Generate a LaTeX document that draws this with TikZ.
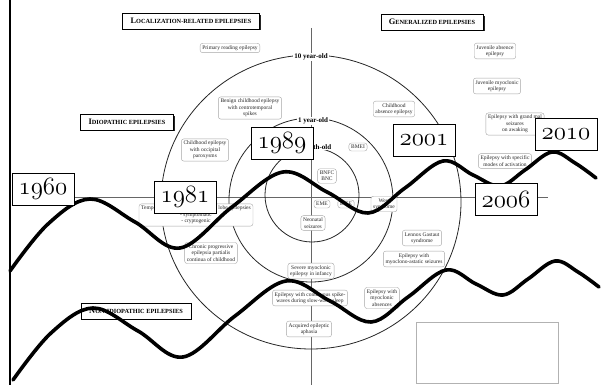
\documentclass[tikz,border=0pt]{standalone}
\usepackage{fontspec}
\setmainfont{Liberation Serif}
\usetikzlibrary{shadows}

% old-style figures for the year tags
\newcommand\yearnum[1]{{\fontsize{24.88}{26}\usefont{OML}{cmm}{m}{it}#1}}
% big first letter + small caps rest
\newcommand\headcap[2]{{\fontsize{8.4}{9}\selectfont #1}{\fontsize{6.3}{7}\selectfont #2}}

\begin{document}
\begin{tikzpicture}[x=1pt,y=-1pt,
	synbox/.style={draw=black!35, fill=white, rounded corners=2.5pt, line width=0.4pt,
		align=center, inner sep=2.2pt, font=\fontsize{5.5}{6.4}\selectfont, text=black!85},
	headbox/.style={draw=black, fill=white, line width=0.5pt, inner xsep=8pt, inner ysep=5pt,
		font=\bfseries, drop shadow={shadow xshift=1.6pt, shadow yshift=-1.6pt, fill=black, opacity=0.85}},
	yearbox/.style={draw=black, fill=white, line width=0.6pt,
		minimum width=62pt, minimum height=32pt, inner sep=0pt},
	agelabel/.style={fill=white, inner sep=1pt, font=\bfseries\fontsize{7}{8}\selectfont},
	ring/.style={line width=0.8pt, black!85},
	axis/.style={line width=0.5pt, black!60},
	wave/.style={line width=3.6pt, line cap=round, line join=round}
	]
	\useasboundingbox (0,0) rectangle (606,385);

	% axes and age rings
	\draw[axis] (75,197) -- (548,197);
	\draw[axis] (311,28) -- (311,385);
	\draw[ring] (311,202) ellipse [x radius=150pt, y radius=147pt];
	\draw[ring] (311,200) circle [radius=82pt];
	\draw[ring] (312,195) circle [radius=47pt];

	\node[agelabel] (age10) at (311,57) {10 year-old};
	\node[agelabel] (age1) at (313,121) {1 year-old};
	\node[agelabel] (age0) at (313,147) {1 month-old};

	% headings
	\node[headbox] (loc) at (191,21) {\headcap{L}{OCALIZATION-RELATED EPILEPSIES}};
	\node[headbox] (gen) at (432,22) {\headcap{G}{ENERALIZED EPILEPSIES}};
	\node[headbox] (idio) at (127,122) {\headcap{I}{DIOPATHIC EPILEPSIES}};
	\node[headbox] (nonid) at (136,311) {\headcap{N}{ON-IDIOPATHIC EPILEPSIES}};

	% syndromes
	\node[synbox] (prim) at (230,48) {Primary reading epilepsy};
	\node[synbox] (benign) at (250,108) {Benign childhood epilepsy\\with centrotemporal\\spikes};
	\node[synbox] (occip) at (205,150) {Childhood epilepsy\\with occipital\\paroxysms};
	\node[synbox] (lobe) at (196,215) {Temporal/frontal/parietal/occipital lobe epilepsies\\- symptomatic\\- cryptogenic};
	\node[synbox] (chron) at (211,253) {Chronic progressive\\epilepsia partialis\\continua of childhood};
	\node[synbox] (bnfc) at (327,176) {BNFC\\BNC};
	\node[synbox] (bmei) at (358,147) {BMEI};
	\node[synbox] (eme) at (322,204) {EME};
	\node[synbox] (eiee) at (346,204) {EIEE};
	\node[synbox] (neo) at (313,223) {Neonatal\\seizures};
	\node[synbox] (west) at (384,204) {West\\syndrome};
	\node[synbox] (cae) at (394,109) {Childhood\\absence epilepsy};
	\node[synbox] (jae) at (495,51) {Juvenile absence\\epilepsy};
	\node[synbox] (jme) at (497,86) {Juvenile myoclonic\\epilepsy};
	\node[synbox] (gmal) at (515,124) {Epilepsy with grand mal\\seizures\\on awaking};
	\node[synbox] (spec) at (505,161) {Epilepsy with specific\\modes of activation};
	\node[synbox] (lgs) at (422,238) {Lennox Gastaut\\syndrome};
	\node[synbox] (mast) at (414,259) {Epilepsy with\\myoclono-astatic seizures};
	\node[synbox] (mabs) at (382,298) {Epilepsy with\\myoclonic\\absences};
	\node[synbox] (smei) at (311,271) {Severe myoclonic\\epilepsy in infancy};
	\node[synbox] (csws) at (310,298) {Epilepsy with continuous spike-\\waves during slow-wave sleep};
	\node[synbox] (aph) at (309,329) {Acquired epileptic\\aphasia};

	\draw[black!30, line width=0.5pt] (416,322) rectangle (558,383);

	% the two waves
	\foreach \wx/\wy in {0/0, 3/109}
		\draw[wave, shift={(\wx,\wy)}] plot[smooth, tension=0.6] coordinates {
			(10,271) (48,224) (90,199) (135,222) (180,248) (232,207) (283,172)
			(327,192) (368,213) (405,188) (443,161) (473,175) (500,186)
			(525,170) (552,152) (575,163) (596,178)};

	% year tags
	\node[yearbox] (y1960) at (43,189) {\yearnum{1960}};
	\node[yearbox] (y1981) at (185,197) {\yearnum{1981}};
	\node[yearbox] (y1989) at (282,143) {\yearnum{1989}};
	\node[yearbox] (y2001) at (424,140) {\yearnum{2001}};
	\node[yearbox] (y2006) at (506,199) {\yearnum{2006}};
	\node[yearbox] (y2010) at (566,134) {\yearnum{2010}};

	\draw[line width=2.2pt] (10,0) -- (10,385);
\end{tikzpicture}
\end{document}
